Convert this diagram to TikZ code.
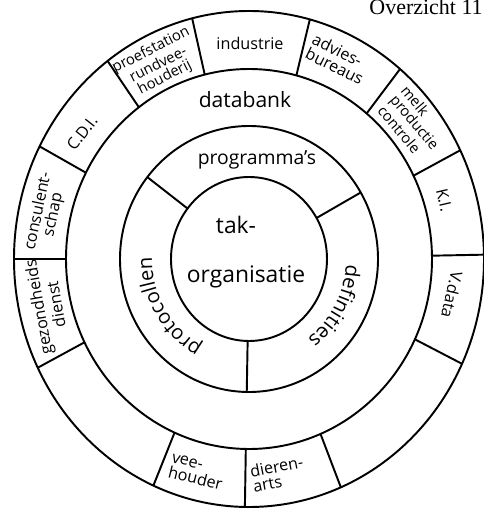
\documentclass[tikz,border=0pt]{standalone}
\usepackage{fontspec}
\setmainfont{Open Sans}
\newfontfamily\pagefont{Liberation Serif}
\usetikzlibrary{calc,decorations.text}

\begin{document}
\begin{tikzpicture}[
  x=0.02cm, y=0.02cm,
  ring/.style={line width=1.1pt, draw=black},
  divider/.style={line width=1.1pt, draw=black},
  core/.style={inner sep=0pt, font=\fontsize{13}{13}\selectfont},
  layer/.style={inner sep=0pt, font=\fontsize{12}{12}\selectfont},
  cell/.style={inner sep=0pt, align=center, font=\fontsize{9.2}{8.8}\selectfont},
  cellleft/.style={cell, align=left},
  smallcell/.style={cell, font=\fontsize{8.4}{8}\selectfont}
]
\useasboundingbox (0,0) rectangle (484,508);
\coordinate (c) at (249,249);

% rings
\draw[ring] (c) ellipse [x radius=78, y radius=82];
\draw[ring] (c) ellipse [x radius=129, y radius=133];
\draw[ring] (c) ellipse [x radius=183, y radius=190];
\draw[ring] (c) ellipse [x radius=235, y radius=248];

% dividers
\foreach \a in {142,30,-91}
  \draw[divider] ($(c)+(\a:78 and 82)$) -- ($(c)+(\a:129 and 133)$);
\foreach \a in {104,75,50,26,1,-25,-67,-91,-114,-154,180,153,127}
  \draw[divider] ($(c)+(\a:183 and 190)$) -- ($(c)+(\a:235 and 248)$);

% centre and inner ring
\node[core] (tak) at (236,283) {tak-};
\node[core] (organisatie) at (246,231) {organisatie};
\node[layer, font=\fontsize{11}{11}\selectfont] (programmas) at (257,348) {programma's};
\path[decorate, decoration={text along path, text align=center,
  text={|\fontsize{11.5}{11.5}\selectfont|definities}}]
  ($(c)+(4:97 and 100)$) arc[start angle=4, end angle=-60, x radius=97, y radius=100];
\path[decorate, decoration={text along path, text align=center,
  text={|\fontsize{11.5}{11.5}\selectfont|protocollen}}]
  ($(c)+(240:97 and 100)$) arc[start angle=240, end angle=180, x radius=97, y radius=100];
\node[layer] (databank) at (245,408) {databank};

% outer ring
\node[cell] (industrie) at (250,465) {industrie};
\node[cellleft, rotate=-26] (advies) at (338,449) {advies-\\bureaus};
\node[smallcell, align=left, rotate=-50] (melk) at (414,385) {melk\\productie\\controle};
\node[cell, rotate=-77] (ki) at (444,308) {K.I.};
\node[cell, rotate=-103] (vdata) at (452,213) {V.data};
\node[cellleft, rotate=11] (dierenarts) at (278,34) {dieren-\\arts};
\node[cellleft, rotate=-14] (veehouder) at (197,36) {vee-\\houder};
\node[cell, rotate=100] (gezondheid) at (47,202) {gezondheids\\dienst};
\node[cell, rotate=78] (consulent) at (46,295) {consulent-\\schap};
\node[cell, rotate=52] (cdi) at (82,375) {C.D.I.};
\node[smallcell, rotate=27] (proefstation) at (158,444) {proefstation\\rundvee-\\houderij};

\node[anchor=base east, inner sep=0pt, font=\pagefont\fontsize{12.5}{12.5}\selectfont] (kop) at (483,493) {Overzicht 11};
\end{tikzpicture}
\end{document}
